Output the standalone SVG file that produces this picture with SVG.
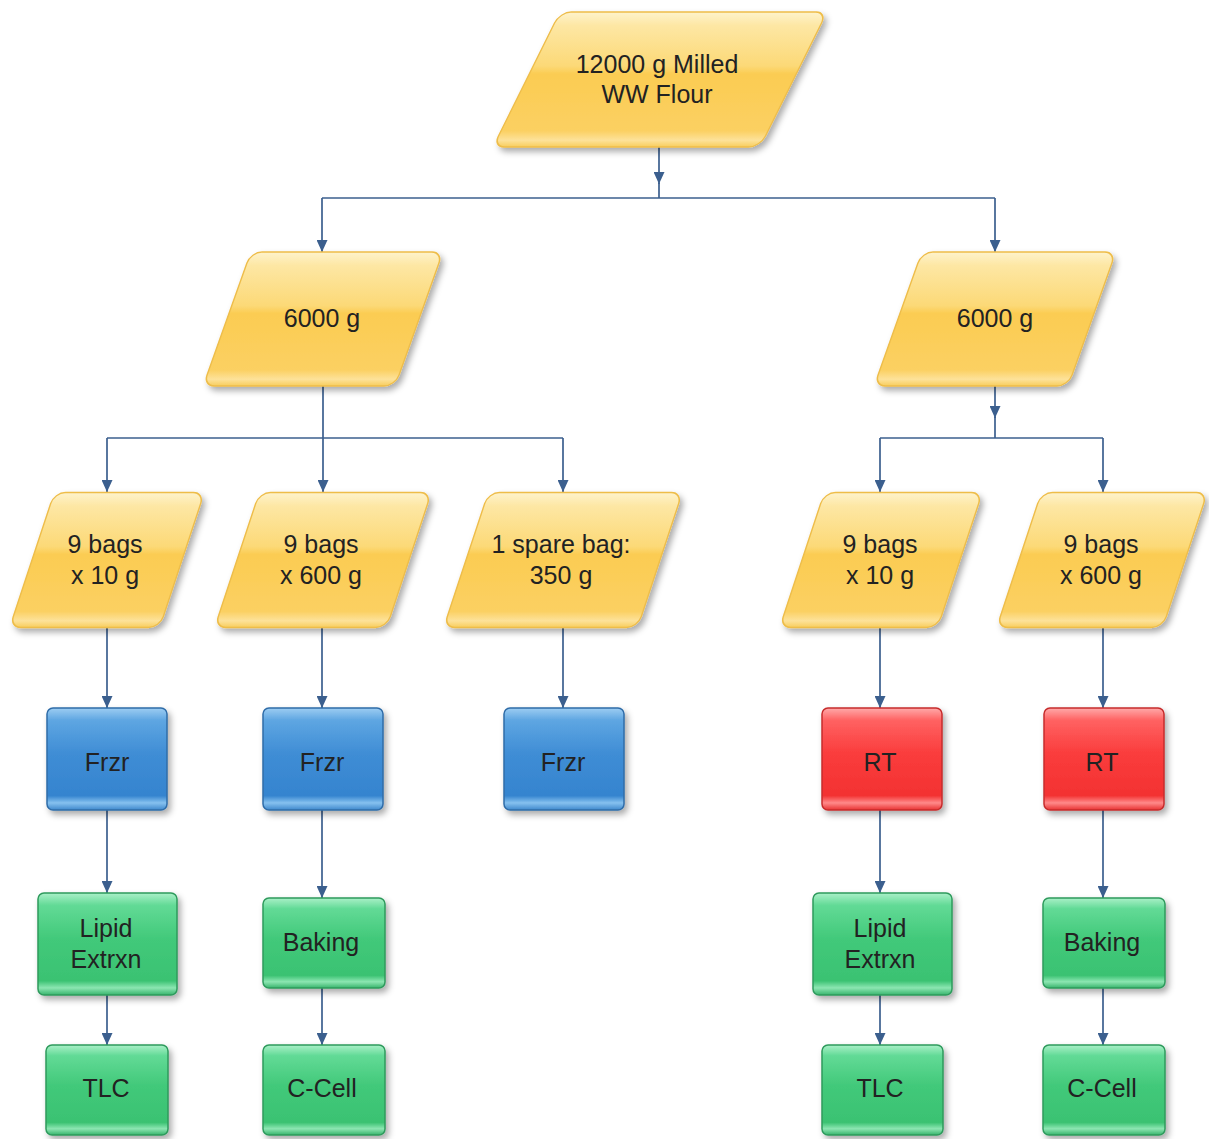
<svg xmlns="http://www.w3.org/2000/svg" width="1209" height="1139" viewBox="0 0 1209 1139">
<style>
.t{font-family:"Liberation Sans",Arial,sans-serif;font-size:25px;fill:#222;text-anchor:middle}
.c{fill:none;stroke:#3b5f8e;stroke-width:1.7}
.y{fill:url(#gy);stroke:#eebd4a;stroke-width:1.5}
.b{fill:url(#gb);stroke:#2f6ca8;stroke-width:1.5}
.r{fill:url(#gr);stroke:#c62c2c;stroke-width:1.5}
.g{fill:url(#gg);stroke:#2e9a5c;stroke-width:1.5}
</style>
<defs>
<filter id="sh" x="-20%" y="-20%" width="140%" height="140%">
<feDropShadow dx="3" dy="4" stdDeviation="3" flood-color="#000" flood-opacity="0.33"/>
</filter>
<linearGradient id="gy" x1="0" y1="0" x2="0" y2="1">
<stop offset="0" stop-color="#fef3cc"/><stop offset="0.1" stop-color="#fde7a4"/><stop offset="0.4" stop-color="#fcd977"/><stop offset="0.46" stop-color="#fbcc52"/><stop offset="0.88" stop-color="#fbd062"/><stop offset="0.95" stop-color="#fde29a"/><stop offset="1" stop-color="#f8cd5c"/>
</linearGradient>
<linearGradient id="gb" x1="0" y1="0" x2="0" y2="1">
<stop offset="0" stop-color="#9dcdf2"/><stop offset="0.12" stop-color="#5ea6e2"/><stop offset="0.45" stop-color="#3f8dd5"/><stop offset="0.86" stop-color="#3584cf"/><stop offset="0.93" stop-color="#86c1ef"/><stop offset="1" stop-color="#3f88cc"/>
</linearGradient>
<linearGradient id="gr" x1="0" y1="0" x2="0" y2="1">
<stop offset="0" stop-color="#ffaaaa"/><stop offset="0.12" stop-color="#ff6262"/><stop offset="0.45" stop-color="#fa3c3c"/><stop offset="0.86" stop-color="#f33232"/><stop offset="0.93" stop-color="#ff8a8a"/><stop offset="1" stop-color="#e83232"/>
</linearGradient>
<linearGradient id="gg" x1="0" y1="0" x2="0" y2="1">
<stop offset="0" stop-color="#aaf0c8"/><stop offset="0.12" stop-color="#62da96"/><stop offset="0.45" stop-color="#42c97a"/><stop offset="0.86" stop-color="#3ac272"/><stop offset="0.93" stop-color="#8ce6b2"/><stop offset="1" stop-color="#38b46c"/>
</linearGradient>
<marker id="ah" viewBox="0 0 12 11" refX="12" refY="5.5" markerWidth="12" markerHeight="11" markerUnits="userSpaceOnUse" orient="auto">
<path d="M0,0 L12,5.5 L0,11 z" fill="#3b5f8e"/>
</marker>
</defs>
<rect width="1209" height="1139" fill="#fff"/>

<g id="connectors">
<path class="c" d="M659,147 V184" marker-end="url(#ah)"/>
<path class="c" d="M659,183 V198"/>
<path class="c" d="M322,198 H995"/>
<path class="c" d="M322,198 V252" marker-end="url(#ah)"/>
<path class="c" d="M995,198 V252" marker-end="url(#ah)"/>
<path class="c" d="M323,386 V438"/>
<path class="c" d="M107,438 H563"/>
<path class="c" d="M107,438 V492" marker-end="url(#ah)"/>
<path class="c" d="M323,438 V492" marker-end="url(#ah)"/>
<path class="c" d="M563,438 V492" marker-end="url(#ah)"/>
<path class="c" d="M995,386 V418" marker-end="url(#ah)"/>
<path class="c" d="M995,417 V438"/>
<path class="c" d="M880,438 H1103"/>
<path class="c" d="M880,438 V492" marker-end="url(#ah)"/>
<path class="c" d="M1103,438 V492" marker-end="url(#ah)"/>
<path class="c" d="M107,627 V708" marker-end="url(#ah)"/>
<path class="c" d="M322,627 V708" marker-end="url(#ah)"/>
<path class="c" d="M563,627 V708" marker-end="url(#ah)"/>
<path class="c" d="M880,627 V708" marker-end="url(#ah)"/>
<path class="c" d="M1103,627 V708" marker-end="url(#ah)"/>
<path class="c" d="M107,810 V893" marker-end="url(#ah)"/>
<path class="c" d="M322,810 V898" marker-end="url(#ah)"/>
<path class="c" d="M880,810 V893" marker-end="url(#ah)"/>
<path class="c" d="M1103,810 V898" marker-end="url(#ah)"/>
<path class="c" d="M107,995 V1045" marker-end="url(#ah)"/>
<path class="c" d="M322,988 V1045" marker-end="url(#ah)"/>
<path class="c" d="M880,995 V1045" marker-end="url(#ah)"/>
<path class="c" d="M1103,988 V1045" marker-end="url(#ah)"/>
</g>

<g id="n-flour">
<g filter="url(#sh)"><rect class="y" transform="translate(660,79.5) skewX(-26.4)" x="-133.5" y="-67.5" width="267" height="135" rx="11"/></g>
<text class="t" x="657" y="73">12000 g Milled</text>
<text class="t" x="657" y="103">WW Flour</text>
</g>

<g id="n-6000-left">
<g filter="url(#sh)"><rect class="y" transform="translate(323,319) skewX(-19.6)" x="-96" y="-67" width="192" height="134" rx="11"/></g>
<text class="t" x="322" y="327">6000 g</text>
</g>

<g id="n-6000-right">
<g filter="url(#sh)"><rect class="y" transform="translate(995,319) skewX(-19.6)" x="-97" y="-67" width="194" height="134" rx="11"/></g>
<text class="t" x="995" y="327">6000 g</text>
</g>

<g id="n-l-10g">
<g filter="url(#sh)"><rect class="y" transform="translate(107,560) skewX(-18.3)" x="-75" y="-67.5" width="150" height="135" rx="11"/></g>
<text class="t" x="105" y="553">9 bags</text>
<text class="t" x="105" y="584">x 10 g</text>
</g>

<g id="n-l-600g">
<g filter="url(#sh)"><rect class="y" transform="translate(323,560) skewX(-18.3)" x="-86" y="-67.5" width="172" height="135" rx="11"/></g>
<text class="t" x="321" y="553">9 bags</text>
<text class="t" x="321" y="584">x 600 g</text>
</g>

<g id="n-l-spare">
<g filter="url(#sh)"><rect class="y" transform="translate(563,560) skewX(-18.3)" x="-97" y="-67.5" width="194" height="135" rx="11"/></g>
<text class="t" x="561" y="553">1 spare bag:</text>
<text class="t" x="561" y="584">350 g</text>
</g>

<g id="n-r-10g">
<g filter="url(#sh)"><rect class="y" transform="translate(881,560) skewX(-18.3)" x="-79" y="-67.5" width="158" height="135" rx="11"/></g>
<text class="t" x="880" y="553">9 bags</text>
<text class="t" x="880" y="584">x 10 g</text>
</g>

<g id="n-r-600g">
<g filter="url(#sh)"><rect class="y" transform="translate(1102,560) skewX(-18.3)" x="-83" y="-67.5" width="166" height="135" rx="11"/></g>
<text class="t" x="1101" y="553">9 bags</text>
<text class="t" x="1101" y="584">x 600 g</text>
</g>

<g id="n-frzr-1">
<rect class="b" filter="url(#sh)" x="47" y="708" width="120" height="102" rx="6"/>
<text class="t" x="107" y="771">Frzr</text>
</g>
<g id="n-frzr-2">
<rect class="b" filter="url(#sh)" x="263" y="708" width="120" height="102" rx="6"/>
<text class="t" x="322" y="771">Frzr</text>
</g>
<g id="n-frzr-3">
<rect class="b" filter="url(#sh)" x="504" y="708" width="120" height="102" rx="6"/>
<text class="t" x="563" y="771">Frzr</text>
</g>
<g id="n-rt-1">
<rect class="r" filter="url(#sh)" x="822" y="708" width="120" height="102" rx="6"/>
<text class="t" x="880" y="771">RT</text>
</g>
<g id="n-rt-2">
<rect class="r" filter="url(#sh)" x="1044" y="708" width="120" height="102" rx="6"/>
<text class="t" x="1102" y="771">RT</text>
</g>

<g id="n-lipid-1">
<rect class="g" filter="url(#sh)" x="38" y="893" width="139" height="102" rx="6"/>
<text class="t" x="106" y="937">Lipid</text>
<text class="t" x="106" y="968">Extrxn</text>
</g>
<g id="n-baking-1">
<rect class="g" filter="url(#sh)" x="263" y="898" width="122" height="90" rx="6"/>
<text class="t" x="321" y="951">Baking</text>
</g>
<g id="n-lipid-2">
<rect class="g" filter="url(#sh)" x="813" y="893" width="139" height="102" rx="6"/>
<text class="t" x="880" y="937">Lipid</text>
<text class="t" x="880" y="968">Extrxn</text>
</g>
<g id="n-baking-2">
<rect class="g" filter="url(#sh)" x="1043" y="898" width="122" height="90" rx="6"/>
<text class="t" x="1102" y="951">Baking</text>
</g>

<g id="n-tlc-1">
<rect class="g" filter="url(#sh)" x="46" y="1045" width="122" height="90" rx="6"/>
<text class="t" x="106" y="1097">TLC</text>
</g>
<g id="n-ccell-1">
<rect class="g" filter="url(#sh)" x="263" y="1045" width="122" height="90" rx="6"/>
<text class="t" x="322" y="1097">C-Cell</text>
</g>
<g id="n-tlc-2">
<rect class="g" filter="url(#sh)" x="822" y="1045" width="121" height="90" rx="6"/>
<text class="t" x="880" y="1097">TLC</text>
</g>
<g id="n-ccell-2">
<rect class="g" filter="url(#sh)" x="1043" y="1045" width="122" height="90" rx="6"/>
<text class="t" x="1102" y="1097">C-Cell</text>
</g>
</svg>
